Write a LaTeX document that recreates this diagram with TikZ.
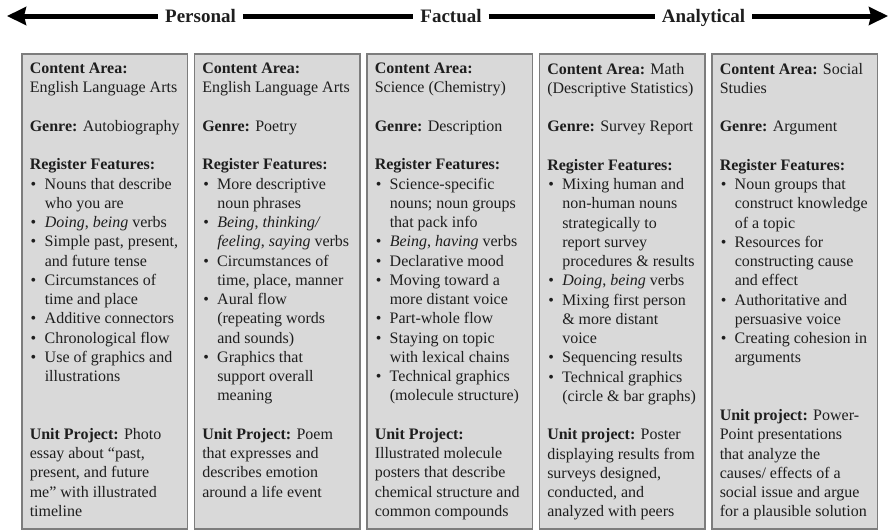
\documentclass[tikz,border=0pt]{standalone}
\usepackage{fontspec}
\setmainfont{Liberation Serif}
\usepackage{tikz}
\usetikzlibrary{arrows.meta}
\usepackage{xcolor}

\definecolor{boxfill}{RGB}{217,217,217}
\definecolor{boxline}{RGB}{125,125,125}
\definecolor{inkcol}{RGB}{30,30,30}

\newcommand{\itm}{\par\noindent\hangindent=15pt\hangafter=1\makebox[15pt][l]{\hspace{1pt}\textbullet}}
\newcommand{\blankln}{\par\vskip\baselineskip}
\newcommand{\colbody}[1]{\parbox[c][457pt][t]{150pt}{\raggedright\fontsize{16}{19.25}\selectfont #1}}

\begin{document}
\begin{tikzpicture}[x=1pt,y=-1pt,
    colbox/.style={draw=boxline, fill=boxfill, line width=1.2pt, inner xsep=7.75pt,
      inner ysep=9pt, outer sep=0pt, anchor=north west, text=inkcol},
    axislabel/.style={font=\fontsize{19}{22}\selectfont\bfseries, text=inkcol,
      inner xsep=7pt, inner ysep=0pt, text height=13pt, text depth=0pt, outer sep=0pt},
    spine/.style={line width=5pt, black},
    bigtip/.tip={Stealth[length=19pt,width=18pt,inset=2pt]}]
  \useasboundingbox (0,0) rectangle (889,531);

  % Scale arrow
  \coordinate (lft) at (7,16);
  \coordinate (rgt) at (888,16);
  \node[axislabel] (pers) at (200.5,16) {Personal};
  \node[axislabel] (fact) at (451,16) {Factual};
  \node[axislabel] (anal) at (703.5,16) {Analytical};

  \draw[spine, bigtip-] (lft) -- (pers);
  \draw[spine] (pers) -- (fact);
  \draw[spine] (fact) -- (anal);
  \draw[spine, -bigtip] (anal) -- (rgt);

  % Column 1
  \node[colbox] (ela1) at (22,54) {\colbody{%
    \textbf{Content Area:}\newline English Language Arts
    \blankln
    \textbf{Genre:} Autobiography
    \blankln
    \textbf{Register Features:}
    \itm Nouns that describe\newline who you are
    \itm \textit{Doing}, \textit{being} verbs
    \itm Simple past, present,\newline and future tense
    \itm Circumstances of\newline time and place
    \itm Additive connectors
    \itm Chronological flow
    \itm Use of graphics and\newline illustrations
    \blankln\vskip\baselineskip
    \textbf{Unit Project:} Photo\newline essay about “past,\newline present, and future\newline me” with illustrated\newline timeline}};

  % Column 2
  \node[colbox] (ela2) at (194.5,54) {\colbody{%
    \textbf{Content Area:}\newline English Language Arts
    \blankln
    \textbf{Genre:} Poetry
    \blankln
    \textbf{Register Features:}
    \itm More descriptive\newline noun phrases
    \itm \textit{Being}, \textit{thinking/}\newline \textit{feeling}, \textit{saying} verbs
    \itm Circumstances of\newline time, place, manner
    \itm Aural flow\newline (repeating words\newline and sounds)
    \itm Graphics that\newline support overall\newline meaning
    \blankln
    \textbf{Unit Project:} Poem\newline that expresses and\newline describes emotion\newline around a life event}};

  % Column 3
  \node[colbox] (chem) at (367,54) {\colbody{%
    \textbf{Content Area:}\newline Science (Chemistry)
    \blankln
    \textbf{Genre:} Description
    \blankln
    \textbf{Register Features:}
    \itm Science-specific\newline nouns; noun groups\newline that pack info
    \itm \textit{Being}, \textit{having} verbs
    \itm Declarative mood
    \itm Moving toward a\newline more distant voice
    \itm Part-whole flow
    \itm Staying on topic\newline with lexical chains
    \itm Technical graphics\newline (molecule structure)
    \blankln
    \textbf{Unit Project:}\newline Illustrated molecule\newline posters that describe\newline chemical structure and\newline common compounds}};

  % Column 4
  \node[colbox] (math) at (539.5,54) {\colbody{%
    \textbf{Content Area:} Math\newline (Descriptive Statistics)
    \blankln
    \textbf{Genre:} Survey Report
    \blankln
    \textbf{Register Features:}
    \itm Mixing human and\newline non-human nouns\newline strategically to\newline report survey\newline procedures \& results
    \itm \textit{Doing}, \textit{being} verbs
    \itm Mixing first person\newline \& more distant\newline voice
    \itm Sequencing results
    \itm Technical graphics\newline (circle \& bar graphs)
    \blankln
    \textbf{Unit project:} Poster\newline displaying results from\newline surveys designed,\newline conducted, and\newline analyzed with peers}};

  % Column 5
  \node[colbox] (soc) at (712,54) {\colbody{%
    \textbf{Content Area:} Social\newline Studies
    \blankln
    \textbf{Genre:} Argument
    \blankln
    \textbf{Register Features:}
    \itm Noun groups that\newline construct knowledge\newline of a topic
    \itm Resources for\newline constructing cause\newline and effect
    \itm Authoritative and\newline persuasive voice
    \itm Creating cohesion in\newline arguments
    \blankln\vskip\baselineskip
    \textbf{Unit project:} Power-\newline Point presentations\newline that analyze the\newline causes/ effects of a\newline social issue and argue\newline for a plausible solution}};
\end{tikzpicture}
\end{document}
